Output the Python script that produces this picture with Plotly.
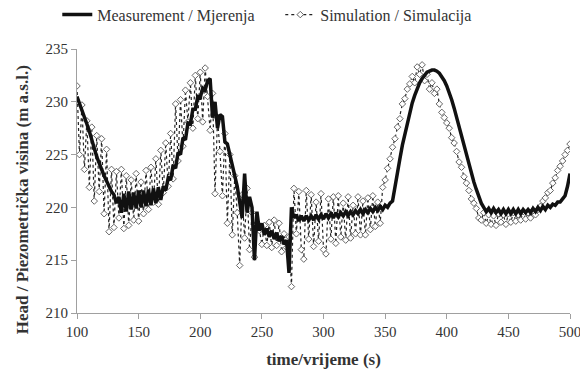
import numpy as np
import plotly.graph_objects as go

# time grid (s), sampled every 2 s from 100 to 500
time_s = np.arange(100, 501, 2)

measurement = [
    230.5, 229.9, 229.3, 228.7, 227.9, 227.2, 226.3, 225.7, 224.8, 224.2,  # 100
    223.5, 223.0, 222.5, 222.0, 221.5, 221.2, 220.4, 221.0, 219.5, 221.3,  # 120
    219.6, 221.5, 219.8, 221.4, 219.9, 221.6, 220.0, 221.6, 220.1, 221.7,  # 140
    220.2, 221.8, 220.4, 221.9, 220.7, 222.0, 221.6, 222.8, 222.6, 224.0,  # 160
    223.7, 225.2, 225.0, 226.6, 226.4, 228.0, 227.9, 229.3, 229.3, 230.5,  # 180
    230.4, 231.3, 231.1, 232.0, 232.2, 228.5, 230.0, 227.5, 228.8, 228.6,  # 200
    226.2, 226.0, 225.0, 224.3, 223.0, 222.0, 220.5, 219.0, 223.2, 219.5,  # 220
    221.0, 220.0, 215.0, 219.6, 217.8, 218.5, 217.4, 218.0, 217.2, 217.8,  # 240
    217.0, 217.6, 216.8, 217.3, 216.5, 216.9, 213.8, 220.0, 219.0, 219.3,  # 260
    218.7, 219.2, 218.7, 219.2, 218.8, 219.2, 218.8, 219.3, 218.9, 219.3,  # 280
    218.9, 219.4, 219.0, 219.4, 219.0, 219.5, 219.1, 219.5, 219.2, 219.6,  # 300
    219.2, 219.6, 219.3, 219.7, 219.4, 219.8, 219.4, 219.8, 219.5, 219.9,  # 320
    219.6, 220.0, 219.7, 220.1, 219.8, 220.2, 220.0, 220.4, 220.6, 221.8,  # 340
    223.2, 224.6, 225.9, 227.0, 228.1, 229.0, 229.9, 230.6, 231.3, 231.8,  # 360
    232.2, 232.5, 232.8, 232.9, 233.0, 233.0, 232.9, 232.7, 232.4, 232.0,  # 380
    231.5, 230.9, 230.2, 229.4, 228.5, 227.6, 226.7, 225.8, 224.9, 224.0,  # 400
    223.2, 222.4, 221.7, 221.0, 220.4, 220.0, 219.6, 219.9, 219.5, 219.9,  # 420
    219.5, 219.8, 219.4, 219.8, 219.4, 219.8, 219.4, 219.8, 219.4, 219.8,  # 440
    219.4, 219.8, 219.5, 219.8, 219.5, 219.9, 219.6, 220.0, 219.7, 220.1,  # 460
    219.8, 220.2, 220.0, 220.3, 220.2, 220.5, 220.5, 220.8, 221.1, 222.0,  # 480
    223.2,                                                                 # 500
]

simulation = [
    231.5, 225.0, 229.7, 223.6, 228.2, 221.9, 227.6, 220.6, 226.8, 221.5,  # 100
    226.5, 219.4, 225.5, 217.7, 223.6, 218.1, 223.4, 219.0, 223.6, 218.0,  # 120
    223.0, 218.3, 222.6, 218.8, 223.2, 218.7, 222.4, 219.4, 223.5, 219.8,  # 140
    223.8, 220.5, 224.6, 220.3, 225.4, 221.4, 226.1, 222.0, 227.0, 222.7,  # 160
    229.8, 224.4, 230.2, 225.8, 231.1, 228.1, 231.8, 227.5, 232.5, 228.4,  # 180
    232.8, 228.1, 233.2, 230.5, 227.3, 230.8, 221.3, 228.5, 225.3, 221.1,  # 200
    227.0, 218.5, 225.0, 217.4, 223.0, 219.5, 214.5, 221.2, 217.1, 221.8,  # 220
    216.0, 219.5, 215.3, 218.5, 217.8, 216.5, 218.3, 216.4, 218.6, 216.2,  # 240
    218.8, 216.4, 218.5, 215.8, 217.5, 216.2, 217.2, 212.5, 221.8, 217.5,  # 260
    221.5, 216.0, 215.1, 221.6, 217.0, 221.2, 216.3, 220.5, 216.8, 221.3,  # 280
    216.0, 215.6, 220.8, 217.0, 221.0, 216.6, 221.1, 217.2, 220.4, 216.9,  # 300
    221.0, 217.1, 220.2, 217.5, 221.0, 217.4, 220.6, 217.4, 220.9, 217.9,  # 320
    221.1, 218.2, 220.5, 218.5, 221.9, 222.6, 223.7, 224.6, 225.7, 226.5,  # 340
    227.6, 228.4, 229.8, 230.3, 231.2, 231.7, 232.4, 231.8, 233.3, 232.6,  # 360
    233.5, 232.0, 232.6, 231.2, 231.8, 230.8, 231.2, 229.8, 229.0, 228.5,  # 380
    228.0, 227.5, 226.6, 226.1, 225.3, 224.3, 223.8, 222.9, 222.3, 221.6,  # 400
    220.8, 220.4, 219.9, 219.0, 218.8, 219.5, 218.5, 219.3, 218.4, 219.2,  # 420
    218.3, 219.4, 218.6, 219.3, 218.4, 219.4, 218.6, 219.5, 218.7, 219.3,  # 440
    218.8, 219.6, 218.9, 219.5, 219.0, 219.7, 219.3, 219.8, 220.1, 220.6,  # 460
    220.9, 221.4, 221.6, 222.3, 222.8, 223.5, 223.9, 224.4, 225.0, 225.4,  # 480
    226.0,                                                                 # 500
]

x_ticks = [100, 150, 200, 250, 300, 350, 400, 450, 500]
y_ticks = [210, 215, 220, 225, 230, 235]

FONT = "Times New Roman, Liberation Serif, DejaVu Serif, Noto Serif, serif"
TXT = "#333333"

fig = go.Figure()
fig.add_trace(go.Scatter(
    x=time_s, y=simulation, mode="lines+markers",
    name="Simulation / Simulacija", legendrank=2,
    line=dict(color="#222222", width=1.2, dash="dot"),
    marker=dict(symbol="diamond", size=5, color="white",
                line=dict(color="#555555", width=0.9)),
))
fig.add_trace(go.Scatter(
    x=time_s, y=measurement, mode="lines",
    name="Measurement / Mjerenja", legendrank=1,
    line=dict(color="#111111", width=3.5),
))

axis_common = dict(showgrid=False, zeroline=False, showline=True,
                   linecolor="#a0a0a0", linewidth=1, ticks="outside",
                   ticklen=5, tickcolor="#a0a0a0", ticklabeloverflow="allow",
                   tickfont=dict(family=FONT, size=15, color=TXT))

fig.update_layout(
    width=580, height=372,
    margin=dict(l=77, r=10, t=49, b=59, autoexpand=False),
    paper_bgcolor="white", plot_bgcolor="white",
    font=dict(family=FONT, color=TXT),
    showlegend=True,
    legend=dict(orientation="h", x=-0.04, xanchor="left", y=1.13,
                yanchor="middle", font=dict(family=FONT, size=16, color=TXT),
                itemwidth=30, entrywidth=178, bgcolor="rgba(0,0,0,0)"),
    xaxis=dict(range=[100, 500], tickvals=x_ticks,
               title=dict(text="<b>time/vrijeme (s)</b>", standoff=14,
                          font=dict(family=FONT, size=17, color=TXT)),
               **axis_common),
    yaxis=dict(range=[210, 235], tickvals=y_ticks, **axis_common),
    annotations=[dict(
        text="<b>Head / Piezometrička visina (m a.s.l.)</b>",
        xref="paper", yref="paper", x=-0.11, y=0.43,
        xanchor="center", yanchor="middle", textangle=-90, showarrow=False,
        font=dict(family=FONT, size=17, color=TXT))],
)

fig.write_html("out.html")
